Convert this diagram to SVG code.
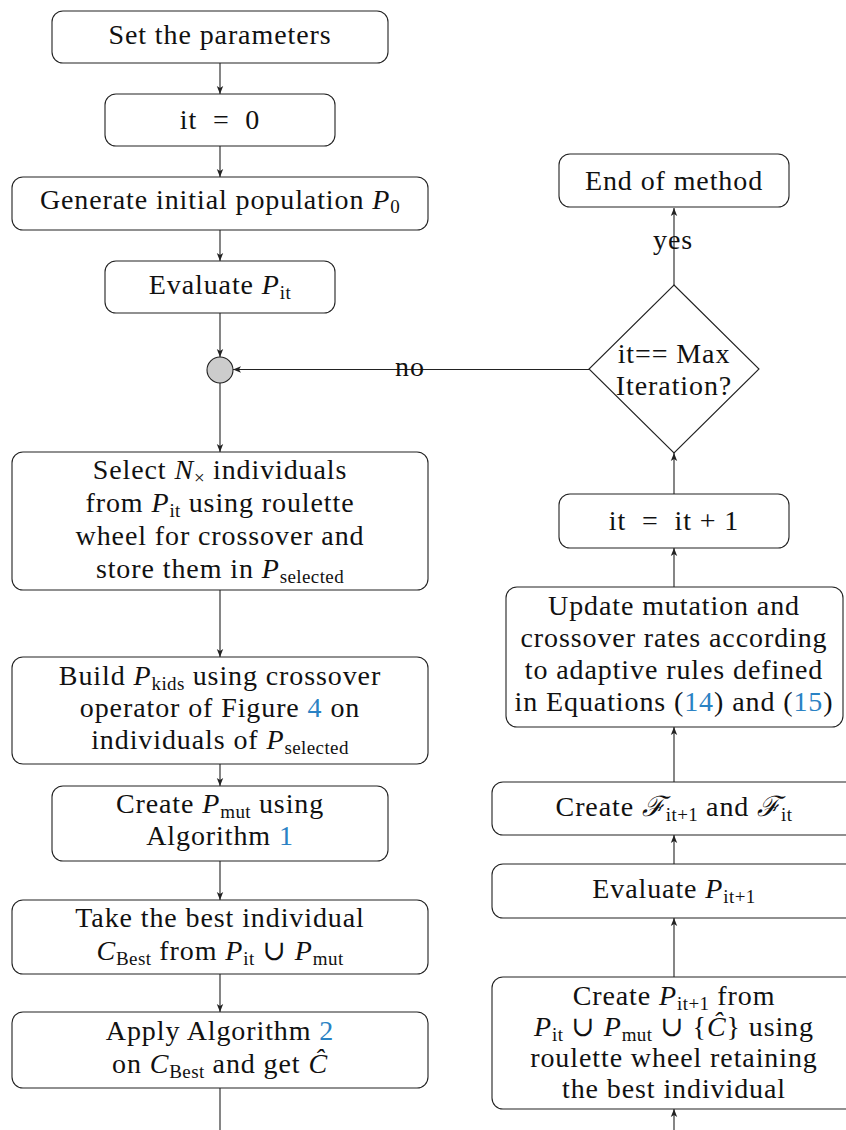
<svg xmlns="http://www.w3.org/2000/svg" width="846" height="1130" viewBox="0 0 846 1130">
<style>
.box{fill:#fff;stroke:#222;stroke-width:1.1}
.t{font-family:"Liberation Serif","DejaVu Serif",serif;font-size:28px;letter-spacing:0.9px;fill:#111;text-anchor:middle}
.i{font-style:italic}
.s{font-size:19px;letter-spacing:0.4px}
.ref{fill:#2a82c4}
.c{stroke:#222;stroke-width:1.1;fill:none}
</style>
<defs>
<marker id="ah" viewBox="0 0 10 10" refX="10" refY="5" markerWidth="8" markerHeight="8" markerUnits="userSpaceOnUse" orient="auto">
<path d="M0,1 L10,5 L0,9 L2.5,5 Z" fill="#222"/>
</marker>
</defs>
<g id="connectors">
<line class="c" x1="220" y1="63" x2="220" y2="94" marker-end="url(#ah)"/>
<line class="c" x1="220" y1="146" x2="220" y2="177" marker-end="url(#ah)"/>
<line class="c" x1="220" y1="230" x2="220" y2="261" marker-end="url(#ah)"/>
<line class="c" x1="220" y1="313" x2="220" y2="357" marker-end="url(#ah)"/>
<line class="c" x1="220" y1="383" x2="220" y2="452" marker-end="url(#ah)"/>
<line class="c" x1="220" y1="590" x2="220" y2="657" marker-end="url(#ah)"/>
<line class="c" x1="220" y1="764" x2="220" y2="786" marker-end="url(#ah)"/>
<line class="c" x1="220" y1="861" x2="220" y2="900" marker-end="url(#ah)"/>
<line class="c" x1="220" y1="974" x2="220" y2="1012" marker-end="url(#ah)"/>
<line class="c" x1="220" y1="1088" x2="220" y2="1130"/>
<line class="c" x1="674" y1="1130" x2="674" y2="1109" marker-end="url(#ah)"/>
<line class="c" x1="674" y1="977" x2="674" y2="918" marker-end="url(#ah)"/>
<line class="c" x1="674" y1="864" x2="674" y2="835" marker-end="url(#ah)"/>
<line class="c" x1="674" y1="782" x2="674" y2="727" marker-end="url(#ah)"/>
<line class="c" x1="674" y1="587" x2="674" y2="548" marker-end="url(#ah)"/>
<line class="c" x1="674" y1="494" x2="674" y2="453" marker-end="url(#ah)"/>
<line class="c" x1="674" y1="285" x2="674" y2="208" marker-end="url(#ah)"/>
<line class="c" x1="589" y1="369.5" x2="233" y2="369.5" marker-end="url(#ah)"/>
<text class="t" x="673" y="249">yes</text>
<text class="t" x="410" y="376">no</text>
</g>
<g id="n1"><rect class="box" x="52" y="11" width="336" height="52" rx="11"/>
<text class="t" x="220" y="44">Set the parameters</text></g>
<g id="n2"><rect class="box" x="105" y="94" width="230" height="52" rx="11"/>
<text class="t" x="220" y="129" xml:space="preserve">it  =  0</text></g>
<g id="n3"><rect class="box" x="12" y="177" width="416" height="53" rx="11"/>
<text class="t" x="220" y="209">Generate initial population <tspan class="i">P</tspan><tspan class="s" dy="4">0</tspan></text></g>
<g id="n4"><rect class="box" x="105" y="261" width="230" height="52" rx="11"/>
<text class="t" x="220" y="294">Evaluate <tspan class="i">P</tspan><tspan class="s" dy="5">it</tspan></text></g>
<g id="merge"><circle cx="220" cy="370" r="13" fill="#cccccc" stroke="#222" stroke-width="1.1"/></g>
<g id="n5"><rect class="box" x="12" y="452" width="416" height="138" rx="11"/>
<text class="t" x="220" y="479">Select <tspan class="i">N</tspan><tspan class="s" dy="5">×</tspan><tspan dy="-5"> individuals</tspan></text>
<text class="t" x="220" y="512">from <tspan class="i">P</tspan><tspan class="s" dy="5">it</tspan><tspan dy="-5"> using roulette</tspan></text>
<text class="t" x="220" y="545">wheel for crossover and</text>
<text class="t" x="220" y="578">store them in <tspan class="i">P</tspan><tspan class="s" dy="5">selected</tspan></text></g>
<g id="n6"><rect class="box" x="12" y="657" width="416" height="107" rx="11"/>
<text class="t" x="220" y="685">Build <tspan class="i">P</tspan><tspan class="s" dy="5">kids</tspan><tspan dy="-5"> using crossover</tspan></text>
<text class="t" x="220" y="717">operator of Figure <tspan class="ref">4</tspan> on</text>
<text class="t" x="220" y="749">individuals of <tspan class="i">P</tspan><tspan class="s" dy="5">selected</tspan></text></g>
<g id="n7"><rect class="box" x="52" y="786" width="336" height="75" rx="11"/>
<text class="t" x="220" y="813">Create <tspan class="i">P</tspan><tspan class="s" dy="5">mut</tspan><tspan dy="-5"> using</tspan></text>
<text class="t" x="220" y="845">Algorithm <tspan class="ref">1</tspan></text></g>
<g id="n8"><rect class="box" x="12" y="900" width="416" height="74" rx="11"/>
<text class="t" x="220" y="927">Take the best individual</text>
<text class="t" x="220" y="960"><tspan class="i">C</tspan><tspan class="s" dy="5">Best</tspan><tspan dy="-5"> from </tspan><tspan class="i">P</tspan><tspan class="s" dy="5">it</tspan><tspan dy="-5"> ∪ </tspan><tspan class="i">P</tspan><tspan class="s" dy="5">mut</tspan></text></g>
<g id="n9"><rect class="box" x="12" y="1012" width="416" height="76" rx="11"/>
<text class="t" x="220" y="1040">Apply Algorithm <tspan class="ref">2</tspan></text>
<text class="t" x="220" y="1073">on <tspan class="i">C</tspan><tspan class="s" dy="5">Best</tspan><tspan dy="-5"> and get </tspan><tspan class="i">Ĉ</tspan></text></g>
<g id="end"><rect class="box" x="559" y="154" width="230" height="53" rx="11"/>
<text class="t" x="674" y="190">End of method</text></g>
<g id="decision"><polygon class="box" points="674,285 759,369 674,453 589,369"/>
<text class="t" x="674" y="363">it== Max</text>
<text class="t" x="674" y="395">Iteration?</text></g>
<g id="inc"><rect class="box" x="559" y="494" width="230" height="54" rx="11"/>
<text class="t" x="674" y="530" xml:space="preserve">it  =  it + 1</text></g>
<g id="update"><rect class="box" x="506" y="587" width="337" height="140" rx="11"/>
<text class="t" x="674" y="615">Update mutation and</text>
<text class="t" x="674" y="647">crossover rates according</text>
<text class="t" x="674" y="679">to adaptive rules defined</text>
<text class="t" x="674" y="711">in Equations (<tspan class="ref">14</tspan>) and (<tspan class="ref">15</tspan>)</text></g>
<g id="createF"><rect class="box" x="492" y="782" width="364" height="53" rx="11"/>
<text class="t" x="674" y="816">Create <tspan class="i">ℱ</tspan><tspan class="s" dy="5">it+1</tspan><tspan dy="-5"> and </tspan><tspan class="i">ℱ</tspan><tspan class="s" dy="5">it</tspan></text></g>
<g id="evalNext"><rect class="box" x="492" y="864" width="364" height="54" rx="11"/>
<text class="t" x="674" y="898">Evaluate <tspan class="i">P</tspan><tspan class="s" dy="5">it+1</tspan></text></g>
<g id="createP"><rect class="box" x="492" y="977" width="364" height="132" rx="11"/>
<text class="t" x="674" y="1005">Create <tspan class="i">P</tspan><tspan class="s" dy="5">it+1</tspan><tspan dy="-5"> from</tspan></text>
<text class="t" x="674" y="1036"><tspan class="i">P</tspan><tspan class="s" dy="5">it</tspan><tspan dy="-5"> ∪ </tspan><tspan class="i">P</tspan><tspan class="s" dy="5">mut</tspan><tspan dy="-5"> ∪ {</tspan><tspan class="i">Ĉ</tspan>} using</text>
<text class="t" x="674" y="1067">roulette wheel retaining</text>
<text class="t" x="674" y="1098">the best individual</text></g>
</svg>
